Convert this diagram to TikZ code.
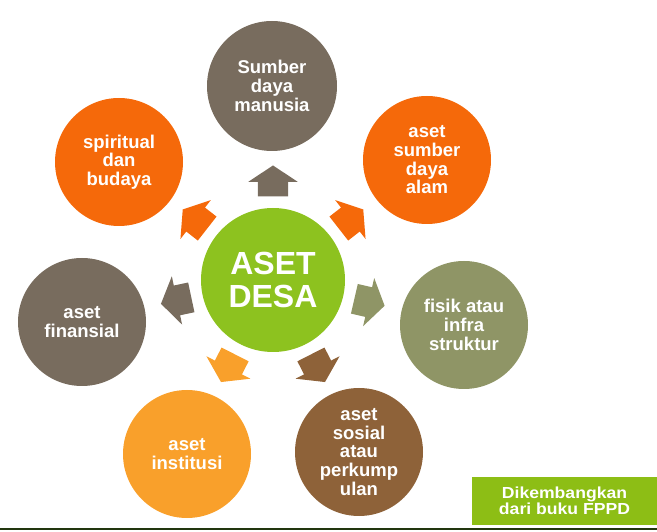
\documentclass[tikz,border=0pt]{standalone}
\usepackage{fontspec}
\setmainfont{Liberation Sans}
\newfontfamily\notefont[FakeStretch=1.1]{Liberation Sans}
\usetikzlibrary{shapes.arrows, calc}

\definecolor{taupe}{HTML}{786C5E}
\definecolor{tangerine}{HTML}{F5690A}
\definecolor{leaf}{HTML}{8DC21F}
\definecolor{olive}{HTML}{8F9566}
\definecolor{cocoa}{HTML}{8E6239}
\definecolor{amber}{HTML}{F9A02B}
\definecolor{boxgreen}{HTML}{8DBE15}
\definecolor{rulegreen}{HTML}{22360F}

\begin{document}
\begin{tikzpicture}[
        x=1pt, y=1pt,
        every node/.style={align=center, text=white, font=\bfseries\fontsize{18.5}{18.7}\selectfont},
        asset/.style={circle, minimum size=128pt, inner sep=0pt},
        push/.style={single arrow, minimum height=31pt, minimum width=49pt, single arrow head extend=9.5pt, single arrow tip angle=113, inner xsep=0pt, inner ysep=15pt}
    ]
    \useasboundingbox (0,0) rectangle (657,531);

    \node (desa) [circle, fill=leaf, minimum size=144pt, font=\bfseries\fontsize{32}{33}\selectfont] at (273,251) {ASET\\DESA};

    \node (sdm) [asset, fill=taupe, minimum size=130pt] at (272,445) {Sumber\\daya\\manusia};
    \node (alam) [asset, fill=tangerine] at (427,371) {aset\\sumber\\daya\\alam};
    \node (fisik) [asset, fill=olive] at (464,206) {fisik atau\\infra\\struktur};
    \node (sosial) [asset, fill=cocoa] at (359,79) {aset\\sosial\\atau\\perkump\\ulan};
    \node (inst) [asset, fill=amber] at (187,77) {aset\\institusi};
    \node (finans) [asset, fill=taupe] at (82,209) {aset\\finansial};
    \node (budaya) [asset, fill=tangerine] at (119,369) {spiritual\\dan\\budaya};

    \node (to-sdm) [push, fill=taupe, rotate=90] at ($(desa)+(90:94)$) {};
    \node (to-alam) [push, fill=tangerine, rotate=38] at ($(desa)+(38:94)$) {};
    \node (to-fisik) [push, fill=olive, rotate=-13] at ($(desa)+(-13:94)$) {};
    \node (to-sosial) [push, fill=cocoa, rotate=-63] at ($(desa)+(-63:94)$) {};
    \node (to-inst) [push, fill=amber, rotate=-117] at ($(desa)+(-117:94)$) {};
    \node (to-finans) [push, fill=taupe, rotate=192] at ($(desa)+(192:94)$) {};
    \node (to-budaya) [push, fill=tangerine, rotate=142] at ($(desa)+(142:94)$) {};

    \node (src) [fill=boxgreen, minimum width=185pt, minimum height=48pt, inner sep=0pt, font=\notefont\bfseries\fontsize{16}{16.5}\selectfont] at (564.5,30) {Dikembangkan\\dari buku FPPD};

    \draw [rulegreen, line width=2pt] (0,2) -- (657,2);

\end{tikzpicture}
\end{document}
